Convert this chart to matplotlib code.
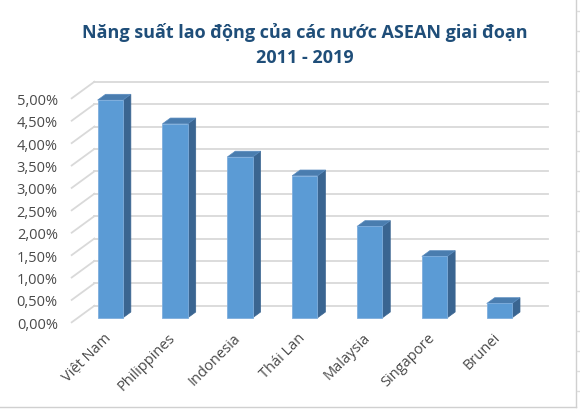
import matplotlib
matplotlib.use("Agg")
import matplotlib.pyplot as plt
from matplotlib.patches import Polygon
from matplotlib.lines import Line2D

### Data
countries = ["Việt Nam", "Philippines", "Indonesia", "Thái Lan",
             "Malaysia", "Singapore", "Brunei"]
growth = [4.86, 4.33, 3.59, 3.17, 2.04, 1.37, 0.32]
y_ticks = [0.0, 0.5, 1.0, 1.5, 2.0, 2.5, 3.0, 3.5, 4.0, 4.5, 5.0]
title = "Năng suất lao động của các nước ASEAN giai đoạn\n2011 - 2019"

### Style
font = ["Open Sans", "DejaVu Sans"]
c_front = "#5B9BD5"
c_side = "#3A6591"
c_top = "#4A7DAF"
c_grid = "#D9D9D9"
c_text = "#4A4A4A"

# depth vector of the floor (x in categories, y in percent)
DX, DY = 0.35, 0.37
F0, F1 = 0.27, 0.62   # bar front / back depth fraction
BW = 0.39

fig = plt.figure(figsize=(5.8, 4.1), dpi=100)
ax = fig.add_axes([71.7 / 580, (410 - 323.3) / 410, 454 / 580, 224 / 410])
ax.set_xlim(-0.5, len(countries) - 0.5)
ax.set_ylim(0, 5)
for s in ax.spines.values():
    s.set_visible(False)
ax.patch.set_visible(False)

# back wall gridlines and side wall diagonals
x0, x1 = -0.5, len(countries) - 0.5
for t in y_ticks:
    ax.plot([x0 + DX, x1 + DX], [t + DY, t + DY], color=c_grid, lw=1.3,
            clip_on=False, zorder=1)
    ax.plot([x0, x0 + DX], [t, t + DY], color=c_grid, lw=1.3,
            clip_on=False, zorder=1)

# bars: front faces through ax.bar, side and top faces from the same values
xs = list(range(len(countries)))
fx = [x + F0 * DX for x in xs]
ax.bar(fx, growth, width=BW, bottom=F0 * DY, color=c_front,
       edgecolor="#7FAEDD", linewidth=0.6, zorder=4, clip_on=False)
ddx, ddy = (F1 - F0) * DX, (F1 - F0) * DY
for x, v in zip(fx, growth):
    b = F0 * DY
    r, l = x + BW / 2, x - BW / 2
    side = Polygon([(r, b), (r + ddx, b + ddy), (r + ddx, b + v + ddy), (r, b + v)],
                   closed=True, facecolor=c_side, edgecolor=c_side, lw=0.5,
                   zorder=3, clip_on=False)
    top = Polygon([(l, b + v), (r, b + v), (r + ddx, b + v + ddy), (l + ddx, b + v + ddy)],
                  closed=True, facecolor=c_top, edgecolor="#5A8CC0", lw=0.5,
                  zorder=3, clip_on=False)
    ax.add_patch(side)
    ax.add_patch(top)

# axis labels
ax.set_yticks(y_ticks)
ax.set_yticklabels([("%.2f%%" % t).replace(".", ",") for t in y_ticks])
ax.tick_params(axis="y", length=0, pad=10, labelsize=10.5, labelcolor=c_text)
for lab in ax.get_yticklabels():
    lab.set_family(font)

ax.set_xticks(xs)
ax.set_xticklabels([])
ax.tick_params(axis="x", length=0)
for x, name in zip(xs, countries):
    ax.text(x + 0.07, -0.28, name, rotation=45, rotation_mode="anchor",
            ha="right", va="center", fontsize=10.5, color=c_text,
            family=font)

# title
fig.text(305 / 580, 1 - 33 / 410, title.split("\n")[0], ha="center",
         va="center", fontsize=13, fontweight="bold", color="#1F4E79",
         family=font)
fig.text(305 / 580, 1 - 58 / 410, title.split("\n")[1], ha="center",
         va="center", fontsize=13, fontweight="bold", color="#1F4E79",
         family=font)

# chart area border and sheet cells outside it
fig.add_artist(Line2D([576 / 580, 576 / 580], [2 / 410, 1], color="#D0D0D0",
                      lw=1, transform=fig.transFigure))
fig.add_artist(Line2D([0, 576 / 580], [2 / 410, 2 / 410], color="#D0D0D0",
                      lw=1, transform=fig.transFigure))
for yy in range(18, 410, 20):
    fig.add_artist(Line2D([577 / 580, 1], [yy / 410, yy / 410], color="#DDDDDD",
                          lw=1, transform=fig.transFigure))

fig.savefig("out.png", dpi=100, facecolor="white")
